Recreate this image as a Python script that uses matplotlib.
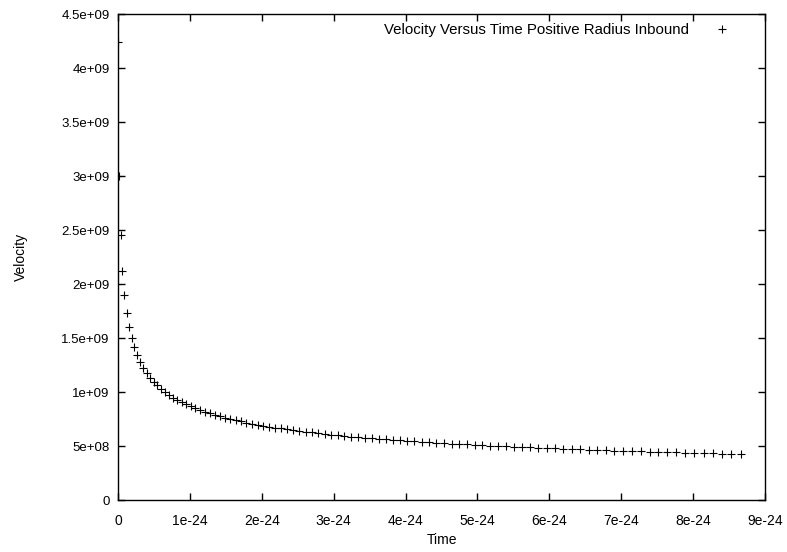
import matplotlib.pyplot as plt

plt.rcParams['font.family'] = ['Liberation Sans', 'DejaVu Sans']

# time in units of 1e-24, velocity in units of 1e9
time_e24 = [
    0.000, 0.016, 0.036, 0.061, 0.088, 0.119, 0.152, 0.188, 0.225, 0.266,
    0.308, 0.352, 0.398, 0.445, 0.495, 0.546, 0.599, 0.653, 0.709, 0.767,
    0.826, 0.886, 0.948, 1.011, 1.075, 1.141, 1.208, 1.276, 1.345, 1.416,
    1.488, 1.561, 1.635, 1.710, 1.787, 1.864, 1.943, 2.022, 2.103, 2.185,
    2.267, 2.351, 2.436, 2.522, 2.609, 2.696, 2.785, 2.875, 2.965, 3.057,
    3.149, 3.242, 3.337, 3.432, 3.528, 3.625, 3.722, 3.821, 3.920, 4.021,
    4.122, 4.224, 4.327, 4.430, 4.535, 4.640, 4.746, 4.853, 4.961, 5.069,
    5.178, 5.288, 5.399, 5.510, 5.623, 5.736, 5.849, 5.964, 6.079, 6.195,
    6.312, 6.429, 6.547, 6.666, 6.786, 6.906, 7.027, 7.149, 7.271, 7.394,
    7.518, 7.642, 7.767, 7.893, 8.019, 8.146, 8.274, 8.403, 8.532, 8.661,
]
velocity_e9 = [
    4.243, 3.000, 2.450, 2.122, 1.898, 1.732, 1.604, 1.500, 1.414, 1.342,
    1.279, 1.225, 1.177, 1.134, 1.096, 1.061, 1.029, 1.000, 0.973, 0.949,
    0.926, 0.905, 0.885, 0.866, 0.849, 0.832, 0.817, 0.802, 0.788, 0.775,
    0.762, 0.750, 0.739, 0.728, 0.717, 0.707, 0.698, 0.688, 0.679, 0.671,
    0.663, 0.655, 0.647, 0.640, 0.633, 0.626, 0.619, 0.612, 0.606, 0.600,
    0.594, 0.588, 0.583, 0.577, 0.572, 0.567, 0.562, 0.557, 0.552, 0.548,
    0.543, 0.539, 0.535, 0.530, 0.526, 0.522, 0.518, 0.515, 0.511, 0.507,
    0.504, 0.500, 0.497, 0.493, 0.490, 0.487, 0.484, 0.480, 0.477, 0.474,
    0.471, 0.469, 0.466, 0.463, 0.460, 0.458, 0.455, 0.452, 0.450, 0.447,
    0.445, 0.442, 0.440, 0.438, 0.435, 0.433, 0.431, 0.429, 0.426, 0.424,
]

x_ticks = [0, 1e-24, 2e-24, 3e-24, 4e-24, 5e-24, 6e-24, 7e-24, 8e-24, 9e-24]
x_tick_labels = ['0', '1e-24', '2e-24', '3e-24', '4e-24', '5e-24', '6e-24',
                 '7e-24', '8e-24', '9e-24']
y_ticks = [0, 5e8, 1e9, 1.5e9, 2e9, 2.5e9, 3e9, 3.5e9, 4e9, 4.5e9]
y_tick_labels = ['0', '5e+08', '1e+09', '1.5e+09', '2e+09', '2.5e+09',
                 '3e+09', '3.5e+09', '4e+09', '4.5e+09']

t = [v * 1e-24 for v in time_e24]
vel = [v * 1e9 for v in velocity_e9]

fig = plt.figure(figsize=(7.87, 5.52), dpi=100)
ax = fig.add_axes([0.150, 0.0942, 0.822, 0.8804])

ax.plot(t, vel, linestyle='none', marker='+', markersize=5.5,
        markeredgewidth=0.8, color='black',
        label='Velocity Versus Time Positive Radius Inbound')

ax.set_xlim(0, 9e-24)
ax.set_ylim(0, 4.5e9)
ax.set_xticks(x_ticks)
ax.set_xticklabels(x_tick_labels)
ax.set_yticks(y_ticks)
ax.set_yticklabels(y_tick_labels)
ax.tick_params(direction='in', length=5, width=1, top=True, right=True,
               labelsize=9.5)
ax.tick_params(axis='x', pad=10, labelsize=10)
ax.tick_params(axis='y', pad=6)
for s in ax.spines.values():
    s.set_linewidth(1.0)

ax.set_xlabel('Time', fontsize=10, labelpad=4)
ax.set_ylabel('Velocity', fontsize=10, labelpad=24)

ax.legend(loc='upper right', frameon=False, markerfirst=False, fontsize=10.8,
          handlelength=1.2, handletextpad=1.6, borderaxespad=0.2,
          bbox_to_anchor=(0.961, 1.0))

fig.savefig('out.png', dpi=100)
